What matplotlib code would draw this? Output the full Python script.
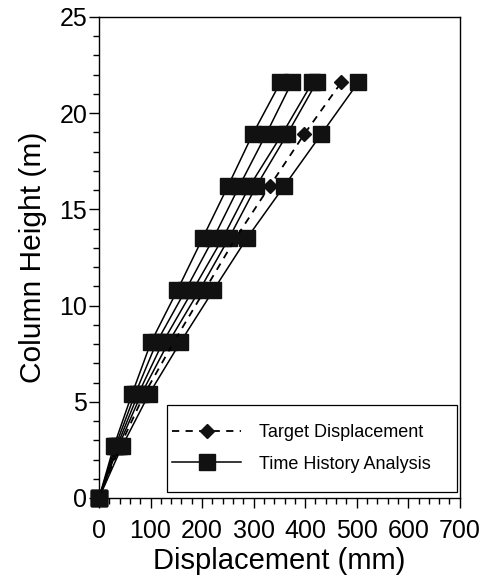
import matplotlib
matplotlib.use("Agg")
import matplotlib.pyplot as plt
from matplotlib.ticker import MultipleLocator
from matplotlib.patches import Rectangle

plt.rcParams['font.family'] = ['Liberation Sans', 'DejaVu Sans']

# Column heights (m)
heights = [0, 2.7, 5.4, 8.1, 10.8, 13.5, 16.2, 18.9, 21.6]

# Target displacement (mm)
target = [0, 41, 88, 145, 205, 265, 331, 398, 470]

# Time history analysis displacements (mm), one list per record
th_1 = [0, 29, 64, 101, 152, 201, 250, 298, 352]
th_2 = [0, 32, 70, 112, 168, 222, 272, 324, 374]
th_3 = [0, 35, 76, 124, 182, 240, 292, 355, 414]
th_4 = [0, 38, 82, 135, 195, 252, 305, 365, 422]
th_5 = [0, 45, 97, 158, 222, 287, 359, 431, 503]
time_history = [th_1, th_2, th_3, th_4, th_5]

labels = ["Target Displacement", "Time History Analysis"]

fig = plt.figure(figsize=(4.84, 5.80), dpi=100)
ax = fig.add_axes([0.2045, 0.1414, 0.7455, 0.8293])

for i, th in enumerate(time_history):
    ax.plot(th, heights, color='black', lw=1.1, marker='s', ms=11,
            mfc='#111111', mec='#111111', clip_on=False,
            label=labels[1] if i == 0 else None, zorder=3)

ax.plot(target, heights, color='black', lw=1.3, ls=(0, (4, 3.5)), marker='D',
        ms=7, mfc='#111111', mec='#111111', clip_on=False,
        label=labels[0], zorder=4)

ax.set_xlim(0, 700)
ax.set_ylim(0, 25)
ax.xaxis.set_major_locator(MultipleLocator(100))
ax.xaxis.set_minor_locator(MultipleLocator(20))
ax.yaxis.set_major_locator(MultipleLocator(5))
ax.yaxis.set_minor_locator(MultipleLocator(1))
ax.tick_params(which='both', direction='out', top=False, right=False,
               labelsize=18, width=1)
ax.tick_params(which='major', length=7)
ax.tick_params(which='minor', length=4)
ax.tick_params(axis='x', which='major', pad=8)
ax.tick_params(axis='y', which='major', pad=1.5)
for s in ax.spines.values():
    s.set_linewidth(1.0)

ax.set_xlabel("Displacement (mm)", fontsize=21, labelpad=3)
ax.set_ylabel("Column Height (m)", fontsize=21.5, labelpad=9)

# legend frame
ax.add_patch(Rectangle((0.188, 0.0125), 0.803, 0.181, transform=ax.transAxes,
                       fill=True, facecolor='white', edgecolor='black',
                       lw=0.9, zorder=5))

handles, labs = ax.get_legend_handles_labels()
order = [labs.index(labels[0]), labs.index(labels[1])]
leg = ax.legend([handles[k] for k in order], [labs[k] for k in order],
                loc='center left', bbox_to_anchor=(0.188, 0.0125 + 0.181 / 2),
                fontsize=13, numpoints=1, handlelength=3.8,
                handletextpad=1.0, labelspacing=0.8, borderpad=0.3,
                borderaxespad=0, frameon=False)
leg.set_zorder(6)

fig.savefig("out.png", dpi=100)
